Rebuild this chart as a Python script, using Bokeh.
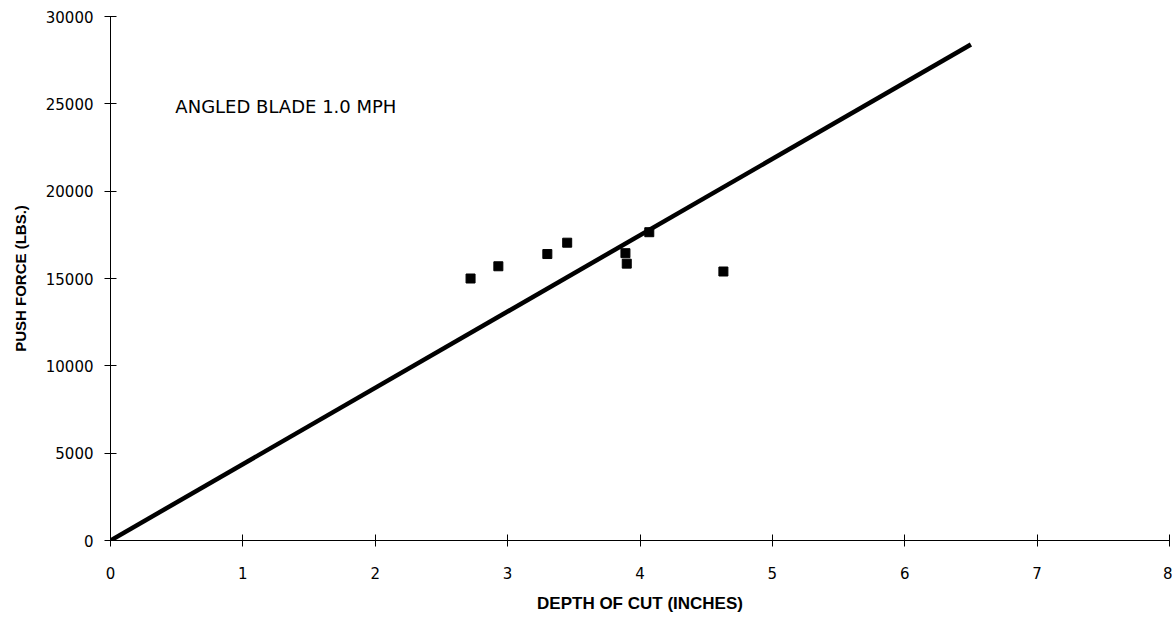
from bokeh.plotting import figure
from bokeh.models import Range1d, Label, FixedTicker
from bokeh.embed import file_html
from bokeh.resources import INLINE

# data
depth = [2.72, 2.93, 3.30, 3.45, 3.89, 3.90, 4.07, 4.63]
force = [15000, 15700, 16400, 17050, 16450, 15850, 17650, 15400]
fit_x = [0.0, 6.5]
fit_y = [0.0, 28400.0]
x_ticks = [0, 1, 2, 3, 4, 5, 6, 7, 8]
y_ticks = [0, 5000, 10000, 15000, 20000, 25000, 30000]

p = figure(width=1172, height=617, output_backend="svg", toolbar_location=None,
           x_range=Range1d(0, 8), y_range=Range1d(0, 30000),
           min_border_left=110, min_border_right=3, min_border_top=16, min_border_bottom=77)
p.outline_line_color = None
p.xgrid.visible = False
p.ygrid.visible = False
p.background_fill_color = "white"

p.line(fit_x, fit_y, line_color="black", line_width=4.5)
p.scatter(depth, force, marker="square", size=9, fill_color="black", line_color="black")

for ax in (p.xaxis[0], p.yaxis[0]):
    ax.axis_line_color = "black"
    ax.axis_line_width = 1
    ax.major_tick_in = 6
    ax.major_tick_out = 6
    ax.major_tick_line_color = "black"
    ax.minor_tick_line_color = None
    ax.major_label_text_font = "DejaVu Sans"
    ax.major_label_text_font_size = "15px"
    ax.major_label_text_color = "black"
    ax.axis_label_text_font = "Liberation Sans"
    ax.axis_label_text_font_style = "bold"
    ax.axis_label_text_color = "black"

p.xaxis.ticker = FixedTicker(ticks=x_ticks)
p.yaxis.ticker = FixedTicker(ticks=y_ticks)
p.xaxis.major_label_standoff = 20
p.yaxis.major_label_standoff = 11
p.xaxis.axis_label = "DEPTH OF CUT (INCHES)"
p.yaxis.axis_label = "PUSH FORCE (LBS.)"
p.xaxis.axis_label_text_font_size = "17px"
p.yaxis.axis_label_text_font_size = "15px"
p.xaxis.axis_label_standoff = 12
p.yaxis.axis_label_standoff = 14

p.add_layout(Label(x=0.49, y=24850, text="ANGLED BLADE 1.0 MPH",
                   text_font="DejaVu Sans", text_font_size="18px",
                   text_color="black", text_baseline="middle"))

open("out.html", "w").write(file_html(p, INLINE))
